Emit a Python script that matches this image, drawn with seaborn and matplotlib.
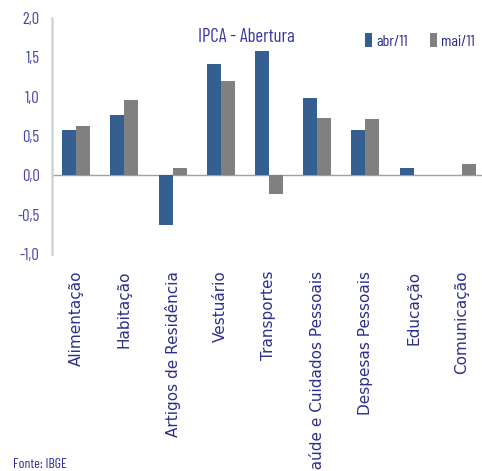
import matplotlib
matplotlib.use("Agg")
import matplotlib.pyplot as plt
import seaborn as sns
import pandas as pd
from matplotlib import font_manager

categories = ["Alimentação", "Habitação", "Artigos de Residência", "Vestuário",
              "Transportes", "Saúde e Cuidados Pessoais", "Despesas Pessoais",
              "Educação", "Comunicação"]
abr11 = [0.57, 0.77, -0.63, 1.42, 1.58, 0.98, 0.57, 0.09, 0.00]
mai11 = [0.63, 0.96, 0.09, 1.20, -0.24, 0.73, 0.71, 0.00, 0.15]
series_names = ["abr/11", "mai/11"]
yticks = [-1.0, -0.5, 0.0, 0.5, 1.0, 1.5, 2.0]
ytick_labels = ["-1,0", "-0,5", "0,0", "0,5", "1,0", "1,5", "2,0"]

df = pd.DataFrame({
    "cat": categories * 2,
    "val": abr11 + mai11,
    "serie": [series_names[0]] * len(categories) + [series_names[1]] * len(categories),
})

sns.set_theme(style="white")
avail = {f.name for f in font_manager.fontManager.ttflist}
narrow = "DejaVu Sans"
for cand in ["Barlow Condensed", "Asap Condensed", "Archivo Narrow"]:
    if cand in avail:
        narrow = cand
        break
plt.rcParams["font.family"] = [narrow, "DejaVu Sans"]
NF = [narrow, "DejaVu Sans"]

fig = plt.figure(figsize=(4.82, 4.71), dpi=100)
ax = fig.add_axes([52 / 482, 1 - 254 / 471, 434 / 482, 236 / 471])

sns.barplot(data=df, x="cat", y="val", hue="serie", order=categories,
            hue_order=series_names, palette=["#355f91", "#808080"],
            width=0.58, ax=ax, linewidth=0, saturation=1)

ax.set_xlim(-0.5, len(categories) - 0.5)
ax.set_ylim(-1.0, 2.0)
ax.axhline(0, color="#a0a0a0", lw=1.0, zorder=0.5)
for s in ["top", "right", "bottom"]:
    ax.spines[s].set_visible(False)
ax.spines["left"].set_color("#d4d4d4")
ax.spines["left"].set_linewidth(1.8)

ax.set_yticks(yticks)
ax.set_yticklabels(ytick_labels, color="#4646a8", fontsize=12, family=NF)
ax.tick_params(axis="y", length=0, pad=9)
ax.tick_params(axis="x", length=0, pad=12)
ax.set_xticks(range(len(categories)))
ax.set_xticklabels(categories, rotation=90, va="top", ha="center",
                   color="#2e2e8c", fontsize=11, family="DejaVu Sans")
ax.set_xlabel("")
ax.set_ylabel("")

ax.legend(loc="center left", bbox_to_anchor=(365 / 482, 1 - 41 / 471),
          bbox_transform=fig.transFigure, ncol=2, frameon=False,
          handlelength=0.45, handleheight=0.9, handletextpad=0.25,
          columnspacing=1.4, borderaxespad=0, borderpad=0,
          prop={"family": NF, "size": 11.5},
          labelcolor="#2a2a90")

fig.text(246 / 482, 1 - 37 / 471, "IPCA - Abertura", ha="center", va="center",
         fontsize=13.5, color="#3535a8", family=NF)
fig.text(13 / 482, 1 - 465 / 471, "Fonte: IBGE", ha="left", va="center",
         fontsize=10, color="#2a2a90", family=NF)

fig.savefig("out.png", dpi=100)
